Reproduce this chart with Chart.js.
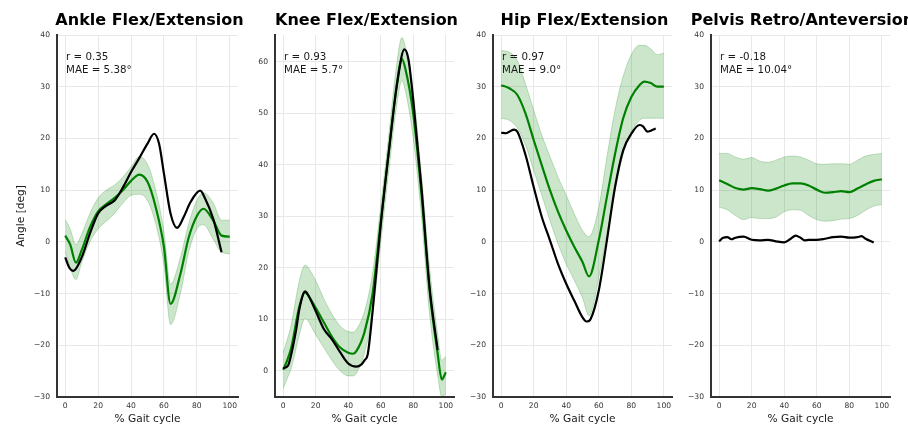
<!DOCTYPE html>
<html>
<head>
<meta charset="utf-8">
<script src="https://cdn.jsdelivr.net/npm/chart.js@4.4.1/dist/chart.umd.min.js"></script>
<style>
  body { margin: 0; background: #fff; }
  #wrap { position: relative; width: 908px; height: 428px; overflow: hidden; }
  #wrap canvas { position: absolute; top: 0; }
</style>
</head>
<body>
<div id="wrap"></div>
<script>
// ---- datos ----
const titles = ['Ankle Flex/Extension', 'Knee Flex/Extension', 'Hip Flex/Extension', 'Pelvis Retro/Anteversion'];
const rValues = ['0.35', '0.93', '0.97', '-0.18'];
const maeValues = ['5.38', '5.7', '9.0', '10.04'];

const xTicks = [0, 20, 40, 60, 80, 100];
const angleTicks = [-30, -20, -10, 0, 10, 20, 30, 40];
const kneeTicks = [0, 10, 20, 30, 40, 50, 60];

// Ankle
const ankleX = [0, 3, 6.5, 10, 15, 20, 25, 30, 35, 40, 45, 50, 55, 60, 64, 70, 75, 80, 84, 90, 95, 100];
const ankleMean = [1.2, -0.5, -4.0, -1.6, 2.8, 5.9, 7.3, 8.5, 10.0, 11.8, 13.0, 11.6, 6.7, -1.0, -12.0, -6.2, 0.8, 5.0, 6.4, 4.1, 1.2, 1.0];
const ankleUpper = [4.3, 2.5, -0.5, 1.5, 5.5, 8.5, 10.0, 11.0, 12.5, 14.5, 16.5, 15.0, 10.0, 2.0, -8.2, -3.0, 3.5, 8.0, 9.5, 7.5, 4.2, 4.2];
const ankleLower = [-1.8, -5.0, -7.3, -4.0, 0.0, 2.5, 4.0, 5.5, 7.5, 9.0, 9.2, 8.0, 3.5, -4.5, -16.0, -10.0, -2.0, 2.5, 3.3, 0.5, -2.0, -2.3];
const ankleTruthX = [0, 2.5, 5, 10, 15, 20, 25, 30, 35, 40, 45, 50, 54, 57, 60, 64, 68, 72, 76, 82, 85, 90, 95];
const ankleTruth = [-3.0, -5.0, -5.6, -3.0, 1.6, 5.5, 7.0, 8.0, 10.5, 13.5, 16.2, 19.0, 20.9, 19.0, 13.2, 5.5, 2.7, 4.8, 7.6, 9.9, 8.4, 4.4, -2.0];

// Knee
const kneeX = [0, 2.5, 5, 10, 13.5, 15, 20, 25, 30, 35, 40, 43, 45, 50, 55, 60, 65, 70, 73, 75, 80, 85, 90, 95, 97.5, 100];
const kneeMean = [0.2, 2.0, 4.5, 12.5, 15.2, 14.8, 12.2, 9.4, 6.6, 4.5, 3.5, 3.3, 3.8, 7.5, 15.0, 29.0, 42.7, 56.0, 60.5, 58.8, 49.8, 34.3, 15.5, 3.2, -1.7, -0.3];
const kneeUpper = [3.5, 6.0, 9.0, 17.5, 20.5, 20.2, 17.5, 14.0, 11.0, 8.7, 7.6, 7.5, 8.0, 11.5, 19.0, 32.0, 46.0, 60.0, 64.7, 63.0, 54.0, 38.0, 20.0, 7.0, 2.0, 2.8];
const kneeLower = [-3.5, -1.5, 0.5, 7.0, 10.2, 9.8, 7.0, 4.5, 2.0, 0.0, -1.0, -1.0, -0.5, 3.5, 11.0, 25.0, 39.0, 52.0, 56.3, 54.5, 45.0, 30.0, 11.0, -1.0, -5.0, -4.5];
const kneeTruthX = [0, 3, 5, 8, 10, 13.5, 15, 20, 25, 30, 35, 40, 45, 48, 50, 52, 55, 60, 65, 70, 74.5, 77, 80, 85, 90, 95];
const kneeTruth = [0.5, 1.0, 3.2, 8.0, 12.0, 15.4, 14.9, 11.6, 8.1, 6.1, 3.6, 1.4, 0.8, 1.2, 2.0, 3.2, 11.6, 28.4, 42.7, 55.6, 62.4, 60.5, 52.4, 35.6, 16.2, 4.0];

// Hip
const hipX = [0, 5, 10, 15, 20, 25, 30, 35, 40, 45, 50, 54, 60, 65, 70, 75, 80, 85, 88, 92, 96, 100];
const hipMean = [30.3, 29.7, 28.4, 24.8, 19.7, 14.8, 10.0, 5.8, 2.2, -1.0, -3.9, -6.7, 0.3, 8.7, 17.0, 23.9, 28.0, 30.3, 31.0, 30.7, 30.0, 30.0];
const hipUpper = [37.0, 36.7, 35.0, 30.5, 25.5, 20.6, 16.5, 12.5, 9.0, 5.4, 2.2, 1.0, 6.7, 16.4, 25.5, 32.0, 36.2, 38.0, 38.0, 37.3, 36.2, 36.5];
const hipLower = [23.9, 23.5, 22.0, 18.7, 13.8, 9.0, 4.1, -0.4, -4.3, -7.5, -10.8, -14.3, -6.9, 1.6, 10.0, 17.0, 21.3, 23.5, 23.9, 23.9, 23.9, 23.9];
const hipTruthX = [0, 3, 5, 8, 10, 15, 20, 25, 30, 35, 40, 45, 50, 52.5, 55, 60, 65, 70, 75, 80, 85, 87, 90, 92, 95];
const hipTruth = [21.1, 21.0, 21.3, 21.7, 21.3, 16.8, 10.6, 4.8, 0.3, -4.3, -8.1, -11.4, -14.6, -15.4, -14.9, -9.4, 0.3, 10.6, 17.7, 20.9, 22.6, 22.4, 21.3, 21.5, 21.9];

// Pelvis
const pelvisX = [0, 5, 10, 15, 20, 25, 30, 35, 40, 45, 50, 55, 60, 65, 70, 75, 80, 85, 90, 95, 100];
const pelvisMean = [11.9, 11.2, 10.4, 10.1, 10.4, 10.2, 9.9, 10.3, 10.9, 11.3, 11.3, 10.9, 10.1, 9.5, 9.6, 9.8, 9.6, 10.3, 11.1, 11.8, 12.1];
const pelvisUpper = [17.1, 17.1, 16.4, 16.0, 16.3, 15.6, 15.4, 15.8, 16.4, 16.6, 16.4, 15.8, 15.1, 15.0, 15.1, 15.1, 15.0, 15.8, 16.6, 16.9, 17.1];
const pelvisLower = [6.7, 6.2, 5.1, 4.3, 4.7, 4.5, 4.5, 4.8, 5.8, 6.2, 6.1, 5.1, 4.3, 4.0, 4.1, 4.4, 4.5, 5.1, 6.1, 6.9, 7.2];
const pelvisTruthX = [0, 2.5, 5, 7.5, 10, 15, 20, 25, 30, 35, 40, 44, 47, 50, 52.5, 55, 60, 65, 70, 75, 80, 85, 87.5, 90, 95];
const pelvisTruth = [0.1, 0.8, 0.9, 0.5, 0.8, 1.0, 0.4, 0.3, 0.4, 0.1, -0.1, 0.6, 1.2, 0.8, 0.3, 0.4, 0.4, 0.6, 0.9, 1.0, 0.8, 0.9, 1.1, 0.6, -0.1];

// ---- configuracion de paneles ----
const FONT = "'DejaVu Sans', sans-serif";
const GREEN = '#008000';

const panels = [
    { x: ankleX, mean: ankleMean, up: ankleUpper, lo: ankleLower, tx: ankleTruthX, truth: ankleTruth, yMin: -30, yMax: 40, yTicks: angleTicks, left: 57, right: 238, yW: 57, yTitle: true },
    { x: kneeX, mean: kneeMean, up: kneeUpper, lo: kneeLower, tx: kneeTruthX, truth: kneeTruth, yMin: -5.1, yMax: 65.2, yTicks: kneeTicks, left: 275, right: 454, yW: 36, yTitle: false },
    { x: hipX, mean: hipMean, up: hipUpper, lo: hipLower, tx: hipTruthX, truth: hipTruth, yMin: -30, yMax: 40, yTicks: angleTicks, left: 493, right: 672, yW: 36, yTitle: false },
    { x: pelvisX, mean: pelvisMean, up: pelvisUpper, lo: pelvisLower, tx: pelvisTruthX, truth: pelvisTruth, yMin: -30, yMax: 40, yTicks: angleTicks, left: 711, right: 890, yW: 36, yTitle: false }
];

const PAD_R = 18;
const H = 428;

// texto de titulo y r/MAE
const panelText = {
    id: 'panelText',
    afterDatasetsDraw(chart, args, opts) {
        const { ctx, chartArea } = chart;
        ctx.save();
        ctx.fillStyle = '#000';
        ctx.font = 'bold 16px ' + FONT;
        ctx.textAlign = 'center';
        ctx.textBaseline = 'middle';
        ctx.fillText(opts.title, (chartArea.left + chartArea.right) / 2 + 2, 21);

        ctx.font = '10.3px ' + FONT;
        ctx.textAlign = 'left';
        ctx.fillStyle = '#1a1a1a';
        ctx.fillText('r = ' + opts.r, chartArea.left + 9, 57);
        ctx.fillText('MAE = ' + opts.mae + '\u00B0', chartArea.left + 9, 70);
        ctx.restore();
    }
};

const fmtTick = v => String(v).replace('-', '\u2212');
const pts = (xs, ys) => xs.map((x, i) => ({ x: x, y: ys[i] }));

const wrap = document.getElementById('wrap');

panels.forEach((p, i) => {
    const w = p.yW + (p.right - p.left) + PAD_R;
    const canvas = document.createElement('canvas');
    canvas.width = w;
    canvas.height = H;
    canvas.style.width = w + 'px';
    canvas.style.height = H + 'px';
    canvas.style.left = (p.left - p.yW) + 'px';
    wrap.appendChild(canvas);

    new Chart(canvas.getContext('2d'), {
        type: 'line',
        data: {
            datasets: [
                {
                    data: pts(p.tx, p.truth),
                    borderColor: '#000',
                    borderWidth: 2.2,
                    pointRadius: 0,
                    cubicInterpolationMode: 'monotone',
                    fill: false
                },
                {
                    data: pts(p.x, p.mean),
                    borderColor: GREEN,
                    borderWidth: 2.2,
                    pointRadius: 0,
                    cubicInterpolationMode: 'monotone',
                    fill: false
                },
                {
                    data: pts(p.x, p.up),
                    borderColor: 'rgba(0,128,0,0.22)',
                    borderWidth: 1,
                    pointRadius: 0,
                    cubicInterpolationMode: 'monotone',
                    fill: false
                },
                {
                    data: pts(p.x, p.lo),
                    borderColor: 'rgba(0,128,0,0.22)',
                    backgroundColor: 'rgba(0,128,0,0.2)',
                    borderWidth: 1,
                    pointRadius: 0,
                    cubicInterpolationMode: 'monotone',
                    fill: '-1'
                }
            ]
        },
        options: {
            responsive: false,
            animation: false,
            events: [],
            layout: { padding: { top: 35, right: PAD_R, bottom: 0, left: 0 } },
            plugins: {
                legend: { display: false },
                tooltip: { enabled: false },
                panelText: { title: titles[i], r: rValues[i], mae: maeValues[i] }
            },
            scales: {
                x: {
                    type: 'linear',
                    min: -5,
                    max: 105,
                    afterBuildTicks: s => { s.ticks = xTicks.map(v => ({ value: v })); },
                    afterFit: s => { s.height = 31; },
                    grid: { color: '#e8e8e8', lineWidth: 1, drawTicks: false },
                    border: { color: '#333', width: 2 },
                    ticks: { padding: 4, color: '#333', font: { family: FONT, size: 7.6 }, maxRotation: 0, autoSkip: false, callback: fmtTick },
                    title: { display: true, text: '% Gait cycle', color: '#1a1a1a', font: { family: FONT, size: 10.6 }, padding: { top: 0, bottom: 2 } }
                },
                y: {
                    type: 'linear',
                    min: p.yMin,
                    max: p.yMax,
                    afterBuildTicks: s => { s.ticks = p.yTicks.map(v => ({ value: v })); },
                    afterFit: s => { s.width = p.yW; },
                    grid: { color: '#e8e8e8', lineWidth: 1, drawTicks: false },
                    border: { color: '#333', width: 2 },
                    ticks: { padding: 7, color: '#333', font: { family: FONT, size: 7.6 }, autoSkip: false, callback: fmtTick },
                    title: { display: p.yTitle, text: 'Angle [deg]', color: '#1a1a1a', font: { family: FONT, size: 10.6 }, padding: { top: 15, bottom: 0 } }
                }
            }
        },
        plugins: [panelText]
    });
});
</script>
</body>
</html>
